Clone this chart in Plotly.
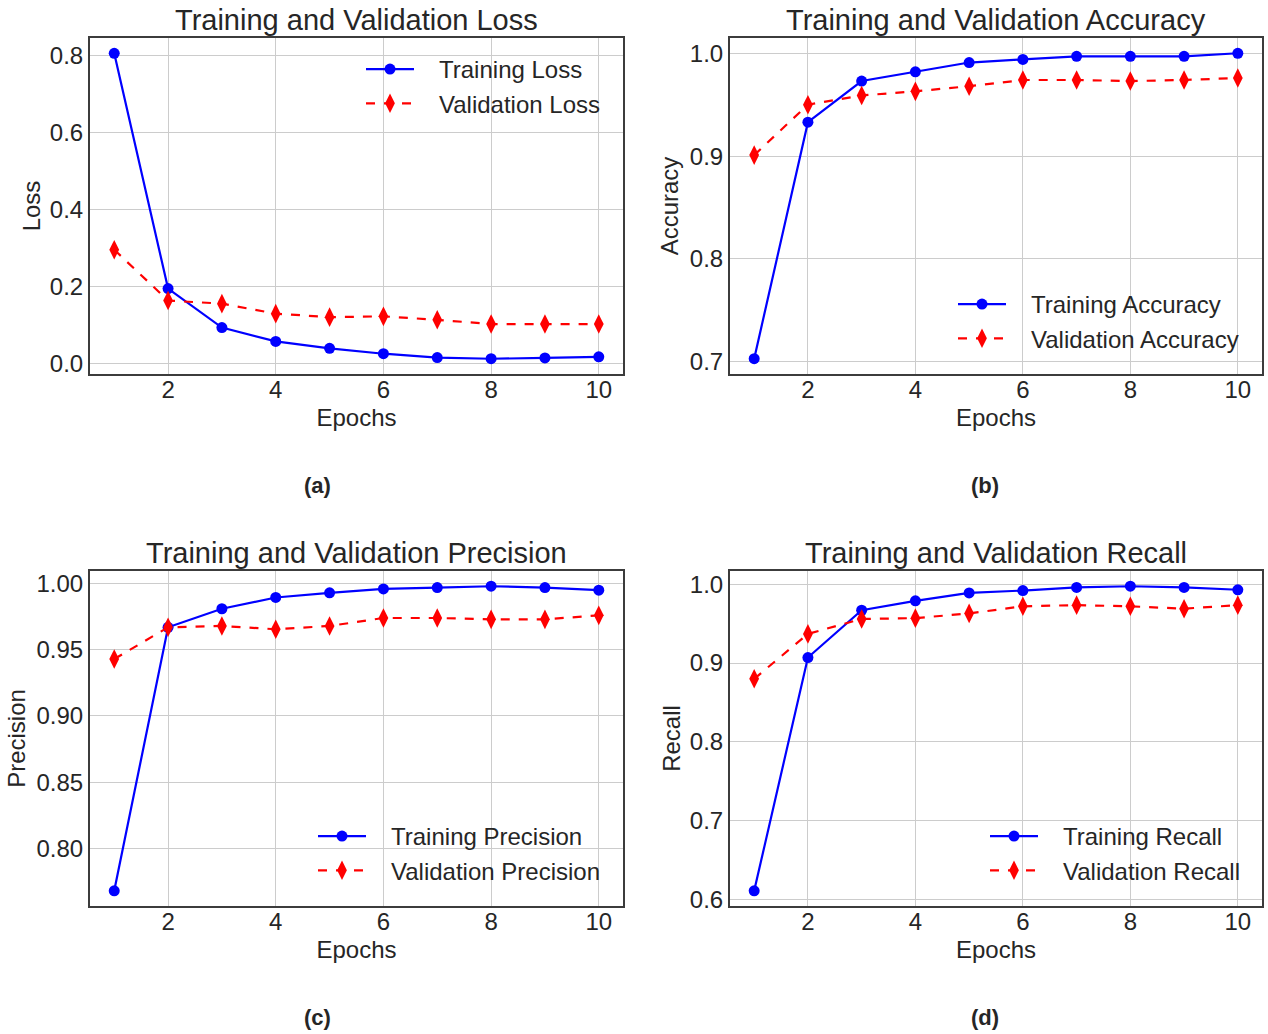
import plotly.graph_objects as go

epochs = [1, 2, 3, 4, 5, 6, 7, 8, 9, 10]

train_loss = [0.806, 0.195, 0.094, 0.058, 0.040, 0.026, 0.016, 0.013, 0.015, 0.018]
val_loss = [0.296, 0.164, 0.156, 0.130, 0.121, 0.123, 0.114, 0.103, 0.103, 0.103]

train_acc = [0.703, 0.933, 0.973, 0.982, 0.991, 0.994, 0.997, 0.997, 0.997, 1.000]
val_acc = [0.901, 0.950, 0.959, 0.963, 0.968, 0.974, 0.974, 0.973, 0.974, 0.976]

train_prec = [0.768, 0.967, 0.981, 0.9895, 0.993, 0.996, 0.997, 0.998, 0.997, 0.995]
val_prec = [0.943, 0.967, 0.968, 0.9655, 0.968, 0.974, 0.974, 0.973, 0.973, 0.976]

train_rec = [0.611, 0.907, 0.967, 0.979, 0.989, 0.992, 0.996, 0.9975, 0.996, 0.993]
val_rec = [0.880, 0.937, 0.956, 0.957, 0.963, 0.972, 0.9735, 0.972, 0.969, 0.9735]

titles = ["Training and Validation Loss", "Training and Validation Accuracy",
          "Training and Validation Precision", "Training and Validation Recall"]
metric_names = ["Loss", "Accuracy", "Precision", "Recall"]
panel_labels = ["(a)", "(b)", "(c)", "(d)"]
x_ticks = [2, 4, 6, 8, 10]
y_ticks = [
    [0.0, 0.2, 0.4, 0.6, 0.8],
    [0.7, 0.8, 0.9, 1.0],
    [0.80, 0.85, 0.90, 0.95, 1.00],
    [0.6, 0.7, 0.8, 0.9, 1.0],
]
y_tick_fmt = [".1f", ".1f", ".2f", ".1f"]
series = [(train_loss, val_loss), (train_acc, val_acc), (train_prec, val_prec), (train_rec, val_rec)]

W, H = 1268, 1034
FONT = "Liberation Sans, Arial, sans-serif"
TXT = "#262626"
FS = 24
GAP = "\u00a0\u00a0\u00a0"

# pixel boxes of plot areas (left, right, top, bottom)
boxes = [(90, 623, 38, 374), (730, 1262, 38, 374), (90, 623, 571, 906), (730, 1262, 571, 906)]
# legend placement (left px of legend, top px of legend)
legend_pos = [(361, 47), (953, 282), (313, 814), (985, 814)]
label_pos = [(317, 485), (985, 485), (317, 1017), (985, 1017)]
ytitle_standoff = [2, 4, 4, 2]

fig = go.Figure()
layout = dict(
    width=W, height=H,
    margin=dict(l=0, r=0, t=0, b=0),
    paper_bgcolor="white", plot_bgcolor="white",
    font=dict(family=FONT, size=FS, color=TXT),
    annotations=[],
)

def padded(vals_a, vals_b):
    lo = min(min(vals_a), min(vals_b))
    hi = max(max(vals_a), max(vals_b))
    pad = (hi - lo) * 0.05
    return [lo - pad, hi + pad]

for i in range(4):
    xa = "x" if i == 0 else f"x{i+1}"
    ya = "y" if i == 0 else f"y{i+1}"
    lg = "legend" if i == 0 else f"legend{i+1}"
    tr, va = series[i]
    fig.add_trace(go.Scatter(
        x=epochs, y=tr, mode="lines+markers", name=GAP + f"Training {metric_names[i]}",
        line=dict(color="#0000ff", width=2.2),
        marker=dict(symbol="circle", size=11, color="#0000ff"),
        xaxis=xa, yaxis=ya, legend=lg,
    ))
    fig.add_trace(go.Scatter(
        x=epochs, y=va, mode="lines+markers", name=GAP + f"Validation {metric_names[i]}",
        line=dict(color="#ff0000", width=2.2, dash="dash"),
        marker=dict(symbol="diamond-tall", size=14, color="#ff0000"),
        xaxis=xa, yaxis=ya, legend=lg,
    ))
    l, r, t, b = boxes[i]
    xdom = [l / W, r / W]
    ydom = [1 - b / H, 1 - t / H]
    axis_common = dict(
        showgrid=True, gridcolor="#cccccc", gridwidth=1,
        showline=True, linecolor="#3c3c3c", linewidth=2, mirror=True,
        ticks="", zeroline=False, automargin=False,
        tickfont=dict(family=FONT, size=FS, color=TXT),
    )
    xkey = "xaxis" if i == 0 else f"xaxis{i+1}"
    ykey = "yaxis" if i == 0 else f"yaxis{i+1}"
    layout[xkey] = dict(
        axis_common, domain=xdom, anchor=ya,
        range=[1 - 0.45, 10 + 0.45], tickvals=x_ticks,
        ticklabelstandoff=-7,
        title=dict(text="Epochs", font=dict(family=FONT, size=FS, color=TXT), standoff=7),
    )
    layout[ykey] = dict(
        axis_common, domain=ydom, anchor=xa,
        range=padded(tr, va), tickvals=y_ticks[i], tickformat=y_tick_fmt[i],
        title=dict(text=metric_names[i], font=dict(family=FONT, size=FS, color=TXT),
                   standoff=ytitle_standoff[i]),
    )
    lx, ly = legend_pos[i]
    layout[lg] = dict(
        x=lx / W, y=1 - ly / H, xanchor="left", yanchor="top",
        bgcolor="rgba(0,0,0,0)", borderwidth=0,
        font=dict(family=FONT, size=FS, color=TXT),
        itemwidth=48, tracegroupgap=0,
    )
    layout["annotations"].append(dict(
        text=titles[i], x=(xdom[0] + xdom[1]) / 2, y=ydom[1],
        xref="paper", yref="paper", xanchor="center", yanchor="bottom",
        yshift=0, showarrow=False,
        font=dict(family=FONT, size=29, color=TXT),
    ))
    px, py = label_pos[i]
    layout["annotations"].append(dict(
        text=f"<b>{panel_labels[i]}</b>", x=px / W, y=1 - py / H,
        xref="paper", yref="paper", xanchor="center", yanchor="middle",
        showarrow=False, font=dict(family=FONT, size=22, color=TXT),
    ))

fig.update_layout(**layout)
fig.write_html("out.html", config={"displayModeBar": False},
               post_script="document.body.style.margin='0';document.body.style.overflow='hidden';")
